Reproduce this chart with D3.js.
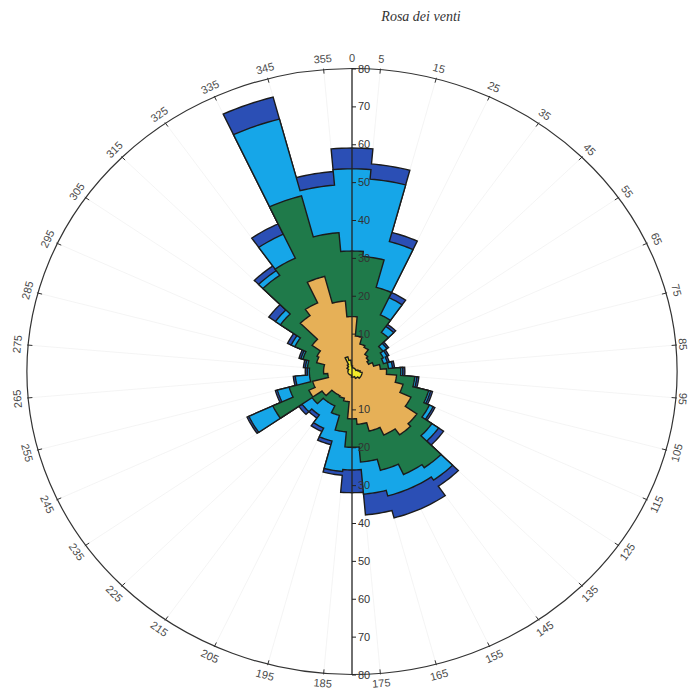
<!DOCTYPE html>
<html><head><meta charset="utf-8">
<script src="https://cdn.jsdelivr.net/npm/d3@7"></script>
<style>body{margin:0;background:#fff}</style>
</head><body>
<svg id="c" width="690" height="690"></svg>
<script>
// Wind directions (sector centres, degrees)
const directions = [0,10,20,30,40,50,60,70,80,90,100,110,120,130,140,150,160,170,180,190,200,210,220,230,240,250,260,270,280,290,300,310,320,330,340,350];
// Cumulative frequencies per class (outer radius of each stacked layer)
const yellow    = [1.5,1,1,1,1,1,1,1,1.5,2,2.5,2.5,2.5,2.5,2,2,1.5,1.5,1.5,1,1,1,1,1,1,1,1,1,1,1,1,1.5,1.5,2,4,3];
const orange    = [14.5,9.4,7.5,7,5.5,5,4.5,5.5,7,8.5,11,13,16,19.5,20.4,18.5,16.3,14,12.5,8,7.3,7,7,9,11.7,10,6,7,7,9,9.5,12,18,20,26,18.7];
const green     = [31.8,30.5,23,16.5,12.6,9.3,8.5,8,9,12,15.5,19.5,21,24,31,30,27,24,20,16,12,10,10,12,21.5,16,10.5,10.5,11,12.5,15.5,21.5,31,33,48,36.8];
const lightBlue = [53.5,51,35.5,21.5,14.5,10.5,9.5,9,10,12.5,16,20,22,26,35,34,34,32.5,26,26.5,19,16.5,14,15,28,19,14,11,11.5,13,16.5,23,32.5,40,69,49.4];
const darkBlue  = [59,55,38,23,15.2,11,10,9.5,10.5,13,16.5,20.5,22.5,27.5,37,40,40,38,32,27.5,20,17.5,15,16,28.5,19.5,14.5,11.5,12,13.5,17.5,25,34,43,75,53];
const radialTicks = [10,20,30,40,50,60,70,80];
const angleTicks = [0,5,15,25,35,45,55,65,75,85,95,105,115,125,135,145,155,165,175,185,195,205,215,225,235,245,255,265,275,285,295,305,315,325,335,345,355];
const title = "Rosa dei venti";

const cx = 352, cy = 371.5, R = 303, sx = 1.073;
const svg = d3.select('#c');
const r = d3.scaleLinear().domain([0, 80]).range([0, R]);
const rad = d => d * Math.PI / 180;

const polar = svg.append('g').attr('transform', `translate(${cx},${cy}) scale(${sx},1)`);

// faint radial grid
polar.selectAll('line.grid').data(angleTicks.filter(a => a !== 0)).join('line')
  .attr('class', 'grid')
  .attr('x1', 0).attr('y1', 0)
  .attr('x2', a => R * Math.sin(rad(a))).attr('y2', a => -R * Math.cos(rad(a)))
  .attr('stroke', '#f1f1f1').attr('stroke-width', 0.8)
  .attr('vector-effect', 'non-scaling-stroke');

// stacked layers
const layers = [
  {values: darkBlue,  color: '#2b4fb5'},
  {values: lightBlue, color: '#16a6e8'},
  {values: green,     color: '#1f7a4a'},
  {values: orange,    color: '#e6b057'},
  {values: yellow,    color: '#f2ea2a'}
];
const line = d3.lineRadial()
  .angle(p => rad(p[0]))
  .radius(p => r(p[1]))
  .curve(d3.curveLinearClosed);
function sectorPoints(vals) {
  const out = [];
  directions.forEach((d, i) => {
    for (let k = 0; k <= 8; k++) out.push([d - 5 + 10 * k / 8, vals[i]]);
  });
  return out;
}
polar.selectAll('path.layer').data(layers).join('path')
  .attr('class', 'layer')
  .attr('d', l => line(sectorPoints(l.values)))
  .attr('fill', l => l.color)
  .attr('stroke', '#1b1b1b').attr('stroke-width', 1.4)
  .attr('stroke-linejoin', 'miter')
  .attr('vector-effect', 'non-scaling-stroke');

// outer circle
polar.append('circle').attr('r', R).attr('fill', 'none')
  .attr('stroke', '#333').attr('stroke-width', 1.2)
  .attr('vector-effect', 'non-scaling-stroke');

// angle ticks
polar.selectAll('line.atick').data(angleTicks.filter(a => a !== 0)).join('line')
  .attr('class', 'atick')
  .attr('x1', a => (R - 4) * Math.sin(rad(a))).attr('y1', a => -(R - 4) * Math.cos(rad(a)))
  .attr('x2', a => (R + 1) * Math.sin(rad(a))).attr('y2', a => -(R + 1) * Math.cos(rad(a)))
  .attr('stroke', '#333').attr('stroke-width', 1)
  .attr('vector-effect', 'non-scaling-stroke');

// angle labels
const off = 11;
svg.selectAll('text.alab').data(angleTicks).join('text')
  .attr('class', 'alab')
  .attr('transform', a => {
    let x = cx + sx * R * Math.sin(rad(a)) + off * Math.sin(rad(a));
    let y = cy - (R + off) * Math.cos(rad(a));
    x = Math.min(x, 683); y = Math.min(y, 683);
    const rot = (a >= 100 && a <= 260) ? a - 180 : a;
    return `translate(${x},${y}) rotate(${rot})`;
  })
  .attr('text-anchor', 'middle').attr('dominant-baseline', 'central')
  .style('font-family', 'Liberation Sans, Arial, sans-serif').style('font-size', '11px')
  .attr('fill', '#4a4a4a')
  .text(a => a);

// radial axis line
svg.append('line').attr('x1', cx).attr('x2', cx).attr('y1', cy - R).attr('y2', cy + R)
  .attr('stroke', '#222').attr('stroke-width', 1.3);

const rUp = d3.scaleLinear().domain([0, 80]).range([0, -R]);
const rDown = d3.scaleLinear().domain([0, 80]).range([0, R]);
[rUp, rDown].forEach(sc => {
  const g = svg.append('g').attr('transform', `translate(${cx},${cy})`)
    .call(d3.axisRight(sc).tickValues(radialTicks).tickSize(4).tickPadding(2));
  g.select('.domain').remove();
  g.selectAll('line').attr('stroke', '#222');
  g.selectAll('text').style('font-family', 'Liberation Sans, Arial, sans-serif')
    .style('font-size', '11px').attr('fill', '#333');
});

// title
svg.append('text').attr('x', 421).attr('y', 21).attr('text-anchor', 'middle')
  .style('font-family', 'Liberation Serif, Times New Roman, serif')
  .style('font-style', 'italic').style('font-size', '14px').attr('fill', '#333')
  .text(title);
</script>
</body></html>
